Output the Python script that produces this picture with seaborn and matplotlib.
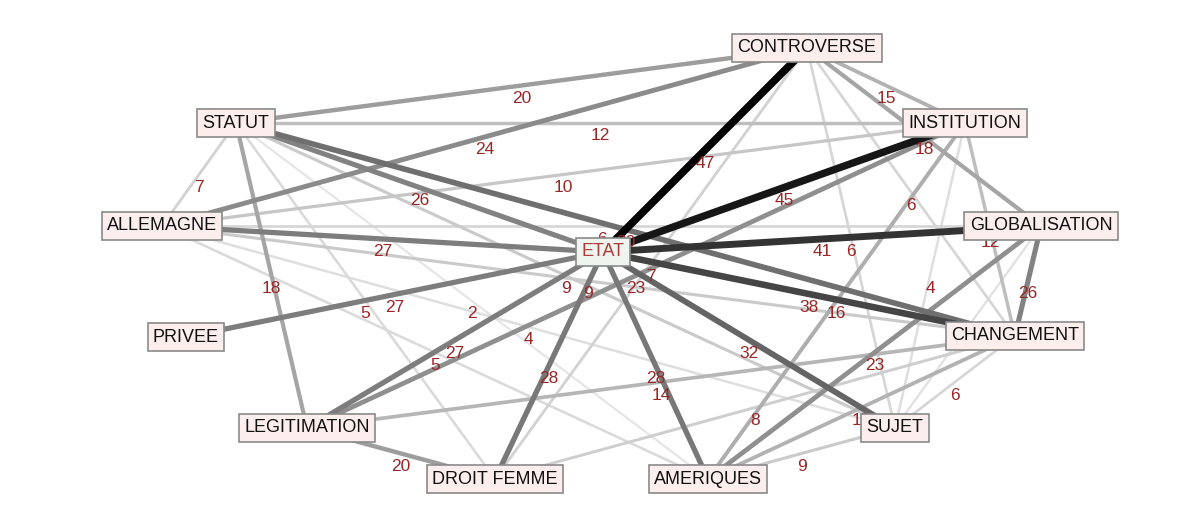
"""Co-occurrence network of themes around ETAT."""

import matplotlib
matplotlib.use("Agg")
import matplotlib.pyplot as plt
import pandas as pd
import seaborn as sns

# node names and layout positions (pixel space of the original figure)
nodes = ["CONTROVERSE", "STATUT", "INSTITUTION", "ALLEMAGNE", "GLOBALISATION", "ETAT",
         "PRIVEE", "CHANGEMENT", "LEGITIMATION", "DROIT FEMME", "AMERIQUES", "SUJET"]
node_x = [807, 236, 965, 162, 1041, 603, 186, 1015, 307, 495, 708, 895]
node_y = [48, 123, 123, 226, 226, 252, 337, 336, 428, 479, 479, 428]

# edges: source, target, co-occurrence count
edge_src = ["STATUT", "CONTROVERSE", "STATUT", "ALLEMAGNE", "ETAT", "CONTROVERSE",
            "STATUT", "ALLEMAGNE", "ETAT", "STATUT", "CONTROVERSE", "ALLEMAGNE",
            "STATUT", "ALLEMAGNE", "ETAT", "CONTROVERSE", "INSTITUTION", "STATUT",
            "STATUT", "ALLEMAGNE", "LEGITIMATION", "DROIT FEMME", "PRIVEE", "STATUT",
            "STATUT", "ETAT", "INSTITUTION", "INSTITUTION", "GLOBALISATION", "ALLEMAGNE",
            "LEGITIMATION", "ALLEMAGNE", "ETAT", "ETAT", "ETAT", "LEGITIMATION",
            "AMERIQUES", "DROIT FEMME", "AMERIQUES", "SUJET", "LEGITIMATION", "AMERIQUES",
            "GLOBALISATION"]
edge_dst = ["CONTROVERSE", "INSTITUTION", "INSTITUTION", "CONTROVERSE", "CONTROVERSE", "GLOBALISATION",
            "ALLEMAGNE", "INSTITUTION", "INSTITUTION", "ETAT", "CHANGEMENT", "GLOBALISATION",
            "CHANGEMENT", "ETAT", "GLOBALISATION", "SUJET", "CHANGEMENT", "LEGITIMATION",
            "SUJET", "CHANGEMENT", "INSTITUTION", "CONTROVERSE", "ETAT", "DROIT FEMME",
            "AMERIQUES", "CHANGEMENT", "AMERIQUES", "SUJET", "CHANGEMENT", "SUJET",
            "ETAT", "AMERIQUES", "SUJET", "DROIT FEMME", "AMERIQUES", "CHANGEMENT",
            "GLOBALISATION", "CHANGEMENT", "CHANGEMENT", "CHANGEMENT", "DROIT FEMME", "SUJET",
            "SUJET"]
edge_weight = [20, 15, 12, 24, 47, 18,
               7, 10, 45, 26, 6, 6,
               30, 27, 41, 6, 12, 18,
               9, 9, 23, 7, 27, 5,
               2, 38, 16, 4, 26, 4,
               27, 5, 32, 28, 28, 14,
               23, 8, 15, 6, 20, 9,
               3]
# labels printed on the edges ("" where the reference shows none)
edge_label = ["20", "15", "12", "24", "47", "18",
              "7", "10", "45", "26", "6", "6",
              "30", "27", "41", "6", "12", "18",
              "9", "9", "23", "7", "27", "5",
              "2", "38", "16", "4", "26", "4",
              "27", "5", "32", "28", "28", "14",
              "23", "8", "15", "6", "20", "9",
              ""]

pos = {n: (x, y) for n, x, y in zip(nodes, node_x, node_y)}

rows = []
for i, (s, t, w) in enumerate(zip(edge_src, edge_dst, edge_weight)):
    rows.append({"edge": i, "x": pos[s][0], "y": pos[s][1], "weight": w})
    rows.append({"edge": i, "x": pos[t][0], "y": pos[t][1], "weight": w})
edges = pd.DataFrame(rows)

wmax = 47
weights = sorted(set(edge_weight))
palette = {w: str(round(0.93 * (1 - w / wmax) ** 0.75, 3)) for w in weights}
widths = {w: (2.0 + 0.12 * w) * 0.72 for w in weights}

sns.set_theme(style="white")
plt.rcParams["font.family"] = ["Liberation Sans", "DejaVu Sans"]

fig = plt.figure(figsize=(11.86, 5.18), dpi=100)
ax = fig.add_axes([0, 0, 1, 1])

# heavy edges drawn last so they sit on top
order = edges.sort_values(["weight", "edge"], kind="stable")
sns.lineplot(data=order, x="x", y="y", units="edge", estimator=None, sort=False,
             hue="weight", size="weight", palette=palette, sizes=widths,
             legend=False, ax=ax, zorder=1)

# edge labels just below the midpoints
for s, t, lab in zip(edge_src, edge_dst, edge_label):
    if not lab:
        continue
    mx = (pos[s][0] + pos[t][0]) / 2
    my = (pos[s][1] + pos[t][1]) / 2 + 13
    ax.text(mx, my, lab, ha="center", va="center", fontsize=12.5,
            color="#992626", zorder=3)

for n in nodes:
    hub = n == "ETAT"
    ax.text(pos[n][0], pos[n][1], n, ha="center", va="center", fontsize=13,
            color="#b03a3a" if hub else "#111111", zorder=5,
            bbox=dict(boxstyle="square,pad=0.3",
                      facecolor="#eef4ee" if hub else "#fdeeee",
                      edgecolor="#8a8a8a", linewidth=1.2))

ax.set_xlim(0, 1186)
ax.set_ylim(518, 0)
ax.set_axis_off()

plt.savefig("out.png", dpi=100)
plt.close()
